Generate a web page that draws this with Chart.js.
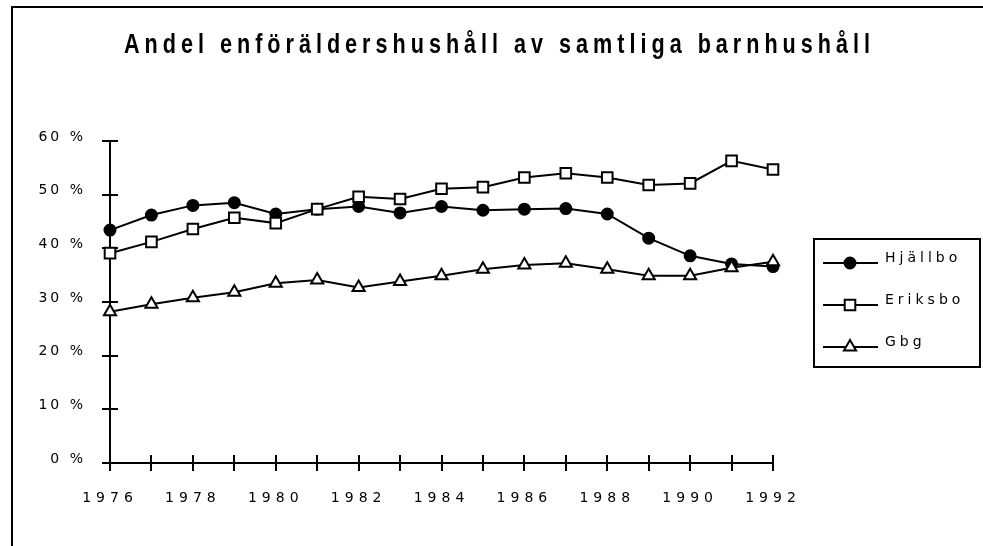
<!DOCTYPE html>
<html>
<head>
<meta charset="utf-8">
<script src="https://cdn.jsdelivr.net/npm/chart.js@4/dist/chart.umd.min.js"></script>
<style>
  html, body { margin: 0; padding: 0; background: #fff; }
  canvas { display: block; }
</style>
</head>
<body>
<canvas id="chart" width="983" height="546"></canvas>
<script>
// Andel enföräldershushåll (%) per år
const years = ['1976', '1977', '1978', '1979', '1980', '1981', '1982', '1983', '1984',
               '1985', '1986', '1987', '1988', '1989', '1990', '1991', '1992'];
const hjallbo = [43.4, 46.2, 48.0, 48.5, 46.4, 47.3, 47.8, 46.6, 47.8, 47.1, 47.3, 47.4, 46.4, 41.9, 38.6, 37.1, 36.6];
const eriksbo = [39.1, 41.2, 43.6, 45.7, 44.7, 47.3, 49.6, 49.2, 51.1, 51.4, 53.2, 54.0, 53.2, 51.8, 52.1, 56.3, 54.7];
const gbg     = [28.2, 29.6, 30.8, 31.8, 33.5, 34.1, 32.7, 33.8, 34.9, 36.1, 36.9, 37.2, 36.1, 34.9, 34.9, 36.4, 37.5];
const seriesNames = ['Hjällbo', 'Eriksbo', 'Gbg'];
const titleText = 'Andel enföräldershushåll av samtliga barnhushåll';
const yMin = 0, yMax = 60, yStep = 10;

const TEXT_FONT = '"DejaVu Sans", Verdana, sans-serif';

// Draws a legend marker in the same style as the dataset points
function drawMarker(ctx, style, r, x, y, fill) {
  ctx.save();
  ctx.lineWidth = 2;
  ctx.strokeStyle = '#000';
  ctx.fillStyle = fill;
  ctx.beginPath();
  if (style === 'circle') {
    ctx.arc(x, y, r, 0, Math.PI * 2);
  } else if (style === 'rect') {
    const s = Math.SQRT1_2 * r;
    ctx.rect(x - s, y - s, 2 * s, 2 * s);
  } else if (style === 'triangle') {
    let a = 0;
    ctx.moveTo(x + Math.sin(a) * r, y - Math.cos(a) * r);
    a += 2 * Math.PI / 3;
    ctx.lineTo(x + Math.sin(a) * r, y - Math.cos(a) * r);
    a += 2 * Math.PI / 3;
    ctx.lineTo(x + Math.sin(a) * r, y - Math.cos(a) * r);
    ctx.closePath();
  }
  ctx.fill();
  ctx.stroke();
  ctx.restore();
}

// Letter-spaced tick labels, per axis
const spacedLabels = {
  id: 'spacedLabels',
  afterUpdate(chart) {
    const spacing = { x: '5px', y: '3px' };
    Object.keys(spacing).forEach(id => {
      const scale = chart.scales[id];
      if (!scale || scale._spacedWrap) return;
      const orig = scale.drawLabels;
      scale.drawLabels = function (area) {
        const c = this.ctx;
        c.save();
        c.letterSpacing = spacing[id];
        orig.call(this, area);
        c.restore();
      };
      scale._spacedWrap = true;
    });
  }
};

// Outer frame, title, tick marks reaching into the plot
const decorations = {
  id: 'decorations',
  beforeDraw(chart) {
    const ctx = chart.ctx;
    ctx.save();
    ctx.fillStyle = '#fff';
    ctx.fillRect(0, 0, chart.width, chart.height);
    ctx.strokeStyle = '#000';
    ctx.lineWidth = 2;
    ctx.beginPath();
    ctx.moveTo(12, 546);
    ctx.lineTo(12, 7);
    ctx.lineTo(983, 7);
    ctx.stroke();

    // title: condensed bold, letter-spaced
    ctx.font = 'bold 27px "Liberation Sans", Arial, sans-serif';
    ctx.letterSpacing = '0px';
    const w0 = ctx.measureText(titleText).width;
    const sx = 0.8;
    const target = 746;
    const n = [...titleText].length;
    const ls = (target / sx - w0) / (n - 1);
    ctx.letterSpacing = ls + 'px';
    ctx.fillStyle = '#000';
    ctx.textAlign = 'left';
    ctx.textBaseline = 'alphabetic';
    ctx.translate(124, 53);
    ctx.scale(sx, 1);
    ctx.fillText(titleText, 0, 0);
    ctx.restore();
  },
  beforeDatasetsDraw(chart) {
    const ctx = chart.ctx;
    const { x, y } = chart.scales;
    const a = chart.chartArea;
    ctx.save();
    ctx.strokeStyle = '#000';
    ctx.lineWidth = 2;
    ctx.beginPath();
    y.ticks.forEach((t, i) => {
      const py = Math.round(y.getPixelForTick(i));
      ctx.moveTo(a.left, py);
      ctx.lineTo(a.left + 8, py);
    });
    x.ticks.forEach((t, i) => {
      const px = Math.round(x.getPixelForTick(i));
      ctx.moveTo(px, a.bottom);
      ctx.lineTo(px, a.bottom - 8);
    });
    ctx.stroke();
    ctx.restore();
  },
  afterDraw(chart) {
    const ctx = chart.ctx;
    ctx.save();
    ctx.strokeStyle = '#000';
    ctx.lineWidth = 2;
    ctx.strokeRect(814, 239, 166, 128);
    const rows = [263, 305, 347];
    ctx.font = '14px ' + TEXT_FONT;
    ctx.letterSpacing = '4px';
    ctx.fillStyle = '#000';
    ctx.textAlign = 'left';
    ctx.textBaseline = 'alphabetic';
    chart.data.datasets.forEach((ds, i) => {
      const yy = rows[i];
      ctx.beginPath();
      ctx.moveTo(823, yy);
      ctx.lineTo(878, yy);
      ctx.stroke();
      drawMarker(ctx, ds.pointStyle, ds.pointRadius, 850, yy, ds.pointBackgroundColor);
      ctx.fillText(ds.label, 885, yy - 1);
    });
    ctx.restore();
  }
};

const common = {
  borderColor: '#000',
  borderWidth: 2,
  pointBorderColor: '#000',
  pointBorderWidth: 2,
  tension: 0,
  fill: false
};

new Chart(document.getElementById('chart'), {
  type: 'line',
  data: {
    labels: years,
    datasets: [
      Object.assign({ label: seriesNames[0], data: hjallbo, pointStyle: 'circle', pointRadius: 5.5,
        pointBackgroundColor: '#000', order: 2 }, common),
      Object.assign({ label: seriesNames[1], data: eriksbo, pointStyle: 'rect', pointRadius: 7.5,
        pointBackgroundColor: '#fff', order: 1 }, common),
      Object.assign({ label: seriesNames[2], data: gbg, pointStyle: 'triangle', pointRadius: 7,
        pointBackgroundColor: '#fff', order: 0 }, common)
    ]
  },
  options: {
    responsive: false,
    animation: false,
    devicePixelRatio: 1,
    layout: { padding: { left: 0, right: 210, top: 141, bottom: 0 } },
    plugins: {
      legend: { display: false },
      title: { display: false },
      tooltip: { enabled: false }
    },
    scales: {
      x: {
        type: 'category',
        offset: false,
        afterFit(scale) { scale.height = 83; },
        grid: { display: true, drawOnChartArea: false, drawTicks: true, tickLength: 8,
                color: '#000', lineWidth: 2, offset: false },
        border: { display: true, color: '#000', width: 2 },
        ticks: {
          autoSkip: false, maxRotation: 0, minRotation: 0, padding: 19,
          color: '#000', font: { family: TEXT_FONT, size: 14 },
          callback(v, i) { const l = this.getLabelForValue(v); return (Number(l) % 2 === 0) ? l : ''; }
        }
      },
      y: {
        min: yMin, max: yMax,
        afterFit(scale) { scale.width = 110; },
        grid: { display: true, drawOnChartArea: false, drawTicks: true, tickLength: 8,
                color: '#000', lineWidth: 2 },
        border: { display: true, color: '#000', width: 2 },
        ticks: {
          stepSize: yStep, padding: 16, labelOffset: -4,
          color: '#000', font: { family: TEXT_FONT, size: 14 },
          callback(v) { return v + ' %'; }
        }
      }
    }
  },
  plugins: [spacedLabels, decorations]
});
</script>
</body>
</html>
